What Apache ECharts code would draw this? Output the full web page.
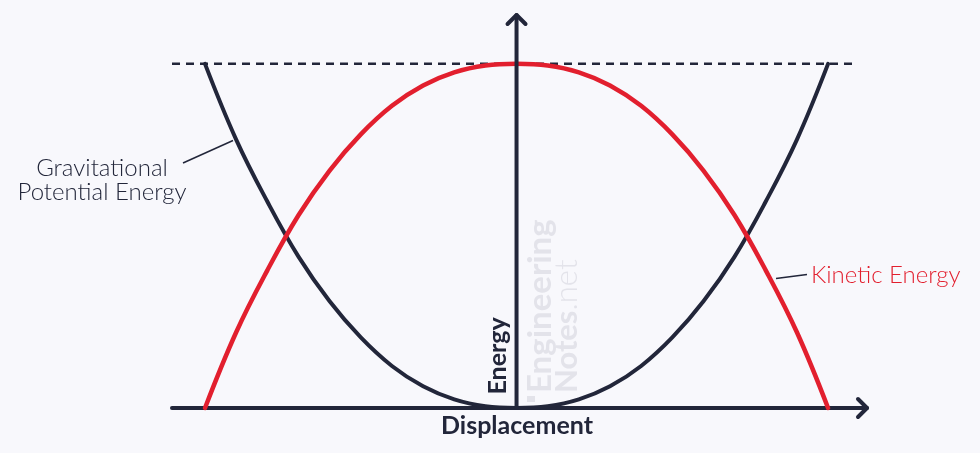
<!DOCTYPE html>
<html><head><meta charset="utf-8">
<script src="https://cdn.jsdelivr.net/npm/echarts@6/dist/echarts.min.js"></script>
<style>html,body{margin:0;padding:0;background:#f8f8fc}#c{width:980px;height:453px}</style>
</head><body><div id="c"></div>
<script>
// ---- data ----
const displacement    = [-1,-0.9,-0.8,-0.7,-0.6,-0.5,-0.4,-0.3,-0.2,-0.1,0,0.1,0.2,0.3,0.4,0.5,0.6,0.7,0.8,0.9,1];
const potentialEnergy = [1,0.78,0.6,0.44,0.31,0.205,0.122,0.063,0.025,0.005,0,0.005,0.025,0.063,0.122,0.205,0.31,0.44,0.6,0.78,1];
const kineticEnergy   = [0,0.22,0.4,0.56,0.69,0.795,0.878,0.937,0.975,0.995,1,0.995,0.975,0.937,0.878,0.795,0.69,0.56,0.4,0.22,0];
const xAxisExtent     = [-1.106, 1.125];   // displacement axis from left end to arrow tip
const yAxisExtent     = [0, 1.142];        // energy axis from origin to arrow tip
const maxEnergyExtent = [-1.106, 1.096];   // dashed max-energy line span
const maxEnergy       = 1;
const labels = { gpe: ['Gravitational', 'Potential Energy'], ke: 'Kinetic Energy', x: 'Displacement', y: 'Energy' };

const NAVY = '#22263a', RED = '#e21f2e', WM = '#e3e3ea';
const chart = echarts.init(document.getElementById('c'), null, { renderer: 'canvas' });

const pairs = (xs, ys) => xs.map((x, i) => [x, ys[i]]);
const base = { type: 'line', symbol: 'none', clip: false, silent: true, animation: false };

chart.setOption({
  backgroundColor: '#f8f8fc',
  animation: false,
  grid: { left: 172, right: 113, top: 15, bottom: 45 },
  xAxis: { type: 'value', min: xAxisExtent[0], max: xAxisExtent[1], show: false },
  yAxis: { type: 'value', min: yAxisExtent[0], max: yAxisExtent[1], show: false },
  series: [
    Object.assign({}, base, { name: 'max', z: 1,
      data: [[maxEnergyExtent[0], maxEnergy], [maxEnergyExtent[1], maxEnergy]],
      lineStyle: { color: NAVY, width: 2.5, type: [8, 6] } }),
    Object.assign({}, base, { name: 'xaxis', z: 2,
      data: [[xAxisExtent[0], 0], [xAxisExtent[1], 0]],
      lineStyle: { color: NAVY, width: 4, cap: 'round' } }),
    Object.assign({}, base, { name: 'Gravitational Potential Energy', z: 3, smooth: 0.4,
      data: pairs(displacement, potentialEnergy),
      lineStyle: { color: NAVY, width: 4, cap: 'round' } }),
    Object.assign({}, base, { name: 'Kinetic Energy', z: 4, smooth: 0.4,
      data: pairs(displacement, kineticEnergy),
      lineStyle: { color: RED, width: 4.5, cap: 'round' } }),
    Object.assign({}, base, { name: 'yaxis', z: 5,
      data: [[0, yAxisExtent[0]], [0, yAxisExtent[1]]],
      lineStyle: { color: NAVY, width: 4, cap: 'round' } })
  ]
});

// arrow heads at axis tips, positioned through the chart's own coordinate conversion
const xt = chart.convertToPixel({ gridIndex: 0 }, [xAxisExtent[1], 0]);
const yt = chart.convertToPixel({ gridIndex: 0 }, [0, yAxisExtent[1]]);
const A = 9;
const lightFont = '300 24px Lato, "Noto Sans", sans-serif';
const boldFont = 'bold 25px Lato, "Noto Sans", sans-serif';

chart.setOption({
  graphic: [
    { type: 'polyline', z: 10, shape: { points: [[xt[0] - A, xt[1] - A], xt, [xt[0] - A, xt[1] + A]] },
      style: { stroke: NAVY, lineWidth: 4, lineCap: 'round', lineJoin: 'round', fill: null } },
    { type: 'polyline', z: 10, shape: { points: [[yt[0] - A, yt[1] + A], yt, [yt[0] + A, yt[1] + A]] },
      style: { stroke: NAVY, lineWidth: 4, lineCap: 'round', lineJoin: 'round', fill: null } },
    // leader lines
    { type: 'line', z: 10, shape: { x1: 183, y1: 163, x2: 233, y2: 140.5 }, style: { stroke: NAVY, lineWidth: 1.5 } },
    { type: 'line', z: 10, shape: { x1: 776, y1: 278.5, x2: 807, y2: 274.5 }, style: { stroke: NAVY, lineWidth: 1.5 } },
    // GPE label
    { type: 'text', z: 10, x: 102, y: 168, style: { text: labels.gpe[0], font: lightFont, fill: NAVY, textAlign: 'center', textVerticalAlign: 'middle' } },
    { type: 'text', z: 10, x: 102, y: 192, style: { text: labels.gpe[1], font: lightFont, fill: NAVY, textAlign: 'center', textVerticalAlign: 'middle' } },
    // KE label
    { type: 'text', z: 10, x: 811, y: 275, style: { text: labels.ke, font: lightFont, fill: RED, textAlign: 'left', textVerticalAlign: 'middle' } },
    // axis names
    { type: 'text', z: 10, x: 517, y: 426, style: { text: labels.x, font: boldFont, fill: NAVY, textAlign: 'center', textVerticalAlign: 'middle' } },
    { type: 'text', z: 10, x: 498, y: 356, rotation: Math.PI / 2, style: { text: labels.y, font: boldFont, fill: NAVY, textAlign: 'center', textVerticalAlign: 'middle' } },
    // watermark
    { type: 'rect', z: 0, shape: { x: 527, y: 396, width: 8, height: 6 }, style: { fill: WM } },
    { type: 'text', z: 0, x: 540, y: 393, rotation: Math.PI / 2,
      style: { text: 'Engineering', font: 'bold 33px Lato, "Noto Sans", sans-serif', fill: WM, textAlign: 'left', textVerticalAlign: 'middle' } },
    { type: 'text', z: 0, x: 567, y: 393, rotation: Math.PI / 2,
      style: { text: '{b|Notes}{l|.net}', fill: WM, textAlign: 'left', textVerticalAlign: 'middle',
        rich: { b: { font: 'bold 31px Lato, "Noto Sans", sans-serif', fill: WM }, l: { font: '300 31px Lato, "Noto Sans", sans-serif', fill: WM } } } }
  ]
});
</script>
</body></html>
